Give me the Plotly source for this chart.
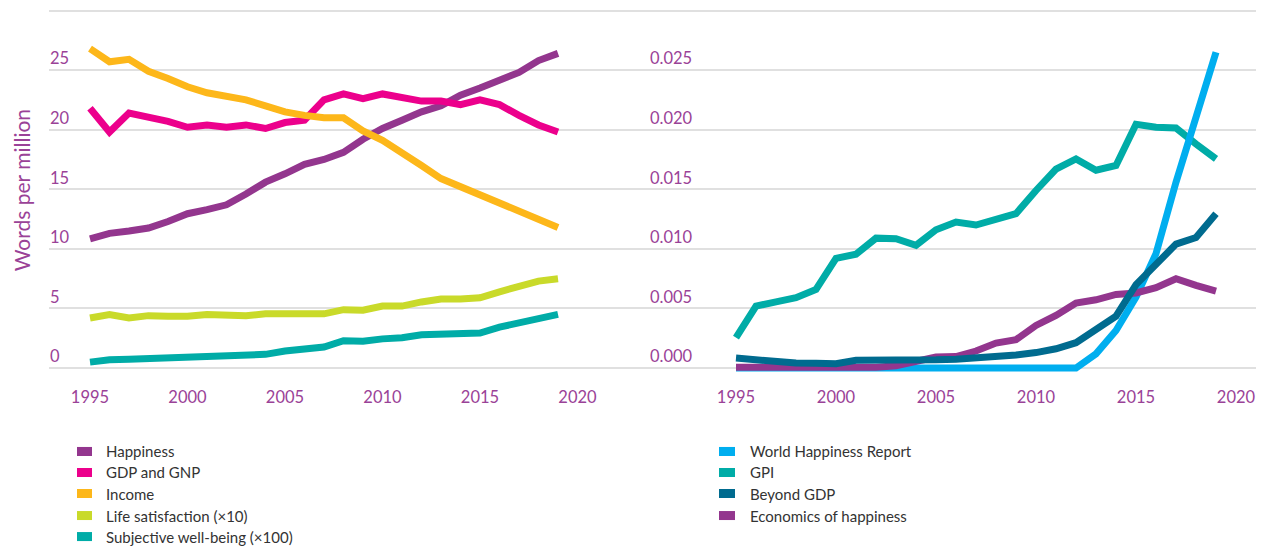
import plotly.graph_objects as go

# ---------------- data ----------------
years = list(range(1995, 2020))

# Left panel (words per million)
happiness = [10.85, 11.3, 11.5, 11.75, 12.3, 12.95, 13.3, 13.7, 14.6, 15.6, 16.3, 17.1, 17.5,
             18.1, 19.2, 20.1, 20.8, 21.5, 22.0, 22.9, 23.5, 24.1, 24.8, 25.8, 26.4]
gdp_gnp = [21.8, 19.8, 21.4, 21.1, 20.7, 20.2, 20.4, 20.2, 20.4, 20.1, 20.6, 20.8, 22.5,
           23.0, 22.6, 23.0, 22.7, 22.4, 22.4, 22.1, 22.5, 22.1, 21.2, 20.4, 19.8]
income = [26.8, 25.7, 25.9, 24.9, 24.3, 23.6, 23.1, 22.8, 22.5, 22.0, 21.5, 21.2, 21.0,
          21.0, 19.9, 19.1, 18.1, 17.0, 15.9, 15.2, 14.6, 13.9, 13.2, 12.5, 11.8]
life_satisfaction_x10 = [4.2, 4.5, 4.2, 4.4, 4.35, 4.35, 4.5, 4.45, 4.4, 4.55, 4.55, 4.6, 4.55,
                         4.9, 4.85, 5.2, 5.2, 5.55, 5.8, 5.8, 5.9, 6.4, 6.85, 7.3, 7.5]
subjective_wb_x100 = [0.5, 0.7, 0.75, 0.8, 0.8, 0.87, 0.92, 0.95, 1.03, 1.15, 1.43, 1.55, 1.76,
                      2.3, 2.25, 2.45, 2.55, 2.8, 2.82, 2.85, 2.94, 3.44, 3.8, 4.2, 4.5]

# Right panel (words per million)
world_happiness_report = [0.0, 0.0, 0.0, 0.0, 0.0, 0.0, 0.0, 0.0, 0.0, 0.0, 0.0, 0.0, 0.0,
                          0.0, 0.0, 0.0, 0.0, 0.0, 0.0012, 0.00315, 0.00595, 0.0096, 0.0156,
                          0.021, 0.0265]
gpi = [0.00255, 0.0052, 0.00555, 0.0059, 0.0066, 0.0092, 0.00955, 0.0109, 0.01085, 0.0103,
       0.0116, 0.01225, 0.012, 0.0125, 0.01295, 0.0149, 0.0167, 0.01755, 0.0166, 0.017,
       0.02045, 0.0202, 0.02015, 0.0188, 0.01755]
beyond_gdp = [0.00084, 0.00066, 0.0005, 0.00042, 0.0004, 0.00037, 0.00065, 0.00065, 0.0006,
              0.0006, 0.0007, 0.00075, 0.00084, 0.00104, 0.0011, 0.0013, 0.00162, 0.00213,
              0.0032, 0.00435, 0.007, 0.0086, 0.0104, 0.01095, 0.01295]
economics_of_happiness = [0.00008, 0.00006, 0.00004, 0.00003, 0.00002, 0.0, 0.00008, 0.00008,
                          0.0002, 0.0005, 0.00092, 0.00097, 0.00143, 0.0021, 0.00238, 0.00358,
                          0.00442, 0.00545, 0.00573, 0.00618, 0.0063, 0.00674, 0.0075,
                          0.00694, 0.00646]

x_ticks = [1995, 2000, 2005, 2010, 2015, 2020]
left_ticks = [0, 5, 10, 15, 20, 25, 30]
left_ticktext = ["0", "5", "10", "15", "20", "25", ""]
right_ticks = [0, 0.005, 0.010, 0.015, 0.020, 0.025, 0.030]
right_ticktext = ["0.000", "0.005", "0.010", "0.015", "0.020", "0.025", ""]

left_names = ["Happiness", "GDP and GNP", "Income", "Life satisfaction (×10)",
              "Subjective well-being (×100)"]
right_names = ["World Happiness Report", "GPI", "Beyond GDP", "Economics of happiness"]

# ---------------- style ----------------
C_PURPLE = "#93368e"
C_MAGENTA = "#ec008c"
C_ORANGE = "#fdb71a"
C_LIME = "#c9da2a"
C_TEAL = "#00aca7"
C_SKY = "#00aeef"
C_DARKBLUE = "#006b8f"
TICK_COLOR = "#9a4297"
GRID = "#e0e0e0"
FONT = "Lato"
LW = 7

left_colors = [C_PURPLE, C_MAGENTA, C_ORANGE, C_LIME, C_TEAL]
right_colors = [C_SKY, C_TEAL, C_DARKBLUE, C_PURPLE]

OFF = 8  # page body margin
W, H = 1266 - 2 * OFF, 546 - OFF

# layout geometry in figure pixels
GRID_LEFT = 49 - OFF
GRID_RIGHT = 1256 - OFF
Y30_PX = 10.5 - OFF
Y0_PX = 367.7 - OFF
UNIT = (Y0_PX - Y30_PX) / 30.0
MT = 1.0
Y_TOP_VAL = 30 + (Y30_PX - MT) / UNIT
Y_BOT_VAL = -1.0
PLOT_BOTTOM = Y0_PX + 1.0 * UNIT
MB = H - PLOT_BOTTOM
ML = GRID_LEFT
MR = W - GRID_RIGHT
PW = W - ML - MR
PH = H - MT - MB
SPLIT = 649 - OFF
dom_split = (SPLIT - ML) / PW

L1995 = 90 - OFF
LPX_YR = 19.5
R1995 = 736 - OFF
RPX_YR = 20.0


def px_x(px):
    return (px - OFF - ML) / PW


def px_y(py):
    return (H - MB - (py - OFF)) / PH


fig = go.Figure()

left_series = [happiness, gdp_gnp, income, life_satisfaction_x10, subjective_wb_x100]
draw_order_left = [4, 3, 0, 1, 2]
for i in draw_order_left:
    fig.add_trace(go.Scatter(x=years, y=left_series[i], mode="lines", name=left_names[i],
                             line=dict(color=left_colors[i], width=LW),
                             xaxis="x", yaxis="y", showlegend=False))

right_series = [world_happiness_report, gpi, beyond_gdp, economics_of_happiness]
draw_order_right = [1, 0, 3, 2]
for i in draw_order_right:
    fig.add_trace(go.Scatter(x=years, y=right_series[i], mode="lines", name=right_names[i],
                             line=dict(color=right_colors[i], width=LW),
                             xaxis="x2", yaxis="y2", showlegend=False))

tickfont = dict(family=FONT, size=16.5, color=TICK_COLOR)
xcommon = dict(tickvals=x_ticks, showgrid=False, zeroline=False, showline=False, ticks="",
               tickfont=tickfont, ticklabelstandoff=5)
ycommon = dict(showgrid=True, gridcolor=GRID, gridwidth=2, zeroline=False, showline=False,
               ticks="", ticklabelposition="inside top", ticklabelstandoff=-2,
               tickfont=tickfont)

fig.update_layout(
    width=W, height=H,
    margin=dict(l=ML, r=MR, t=MT, b=MB, pad=0),
    paper_bgcolor="white", plot_bgcolor="white",
    showlegend=False,
    xaxis=dict(domain=[0, dom_split],
               range=[1995 - (L1995 - ML) / LPX_YR, 1995 + (SPLIT - L1995) / LPX_YR],
               **xcommon),
    xaxis2=dict(domain=[dom_split, 1],
                range=[1995 - (R1995 - SPLIT) / RPX_YR, 1995 + (GRID_RIGHT - R1995) / RPX_YR],
                anchor="y2", **xcommon),
    yaxis=dict(domain=[0, 1], range=[Y_BOT_VAL, Y_TOP_VAL], tickvals=left_ticks,
               ticktext=left_ticktext, anchor="x", **ycommon),
    yaxis2=dict(domain=[0, 1], range=[Y_BOT_VAL / 1000, Y_TOP_VAL / 1000], tickvals=right_ticks,
                ticktext=right_ticktext, anchor="x2", **ycommon),
)

# y-axis title
fig.add_annotation(text="Words per million", xref="paper", yref="paper", x=px_x(21),
                   y=px_y(190), textangle=-90, showarrow=False, xanchor="center",
                   yanchor="middle",
                   font=dict(family=FONT, size=21, color=TICK_COLOR))

# manual legends (rectangular swatches)
rows = [451, 472, 493, 515, 536]


def legend_item(sx0, sx1, tx, py, color, label):
    fig.add_shape(type="rect", xref="paper", yref="paper", x0=px_x(sx0), x1=px_x(sx1),
                  y0=px_y(py + 4.5), y1=px_y(py - 4.5), fillcolor=color, line=dict(width=0))
    fig.add_annotation(text=label, xref="paper", yref="paper", x=px_x(tx), y=px_y(py),
                       xanchor="left", yanchor="middle", showarrow=False,
                       font=dict(family=FONT, size=15, color="#333333"))


for k, name in enumerate(left_names):
    legend_item(77, 92, 104, rows[k], left_colors[k], name)
for k, name in enumerate(right_names):
    legend_item(719, 735, 748, rows[k], right_colors[k], name)

fig.write_html("out.html")
